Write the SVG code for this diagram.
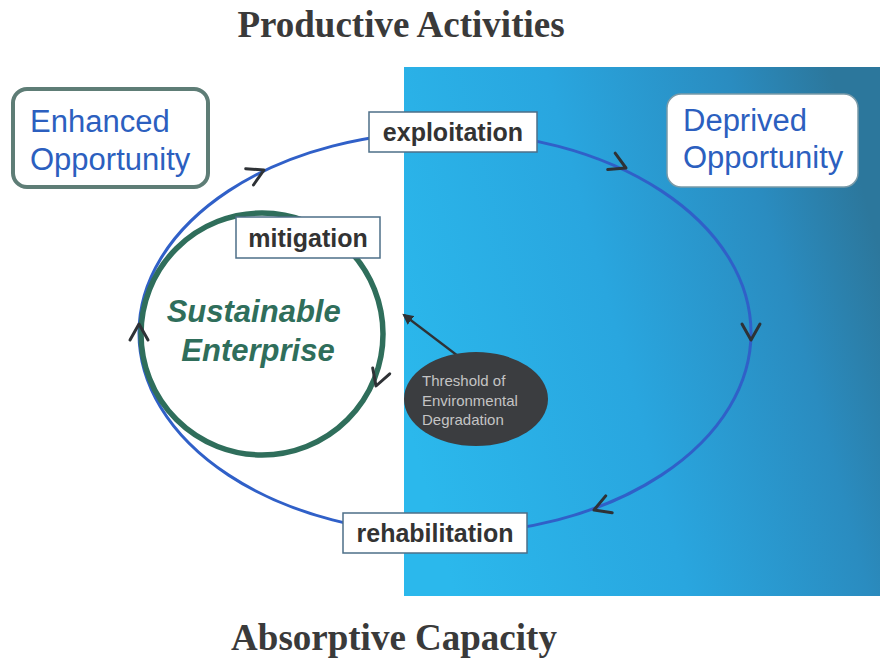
<svg xmlns="http://www.w3.org/2000/svg" width="880" height="660" viewBox="0 0 880 660">
  <defs>
    <linearGradient id="panelFill" x1="0" y1="0.65" x2="1" y2="0.35">
      <stop offset="0" stop-color="#2bb8ec"/>
      <stop offset="0.45" stop-color="#29a6df"/>
      <stop offset="0.8" stop-color="#2a8cc0"/>
      <stop offset="1" stop-color="#2c779c"/>
    </linearGradient>
    <path id="chev" d="M-16,-9 L0,0 L-16,9"/>
    <marker id="tip" viewBox="0 0 10 10" refX="8" refY="5" markerWidth="5" markerHeight="5" orient="auto">
      <path d="M0,0 L10,5 L0,10 z" fill="#2e3236"/>
    </marker>
    <style>
      .title { font-family: "Liberation Serif", serif; font-weight: bold; font-size: 37px; fill: #3a3a3a; text-anchor: middle; }
      .opp { font-family: "Liberation Sans", Arial, sans-serif; font-size: 31px; fill: #2c5fbf; }
      .tag { fill: #ffffff; stroke: #4d6f88; stroke-width: 1.5; }
      .tagText { font-family: "Liberation Sans", Arial, sans-serif; font-weight: bold; font-size: 25px; fill: #333333; text-anchor: middle; }
      .loop { fill: none; stroke: #3060c8; stroke-width: 3; }
      .chev { fill: none; stroke: #2e3236; stroke-width: 3; stroke-linecap: round; stroke-linejoin: round; }
      .small { font-family: "Liberation Sans", Arial, sans-serif; font-size: 15px; fill: #c4c4c4; }
    </style>
  </defs>

  <rect width="880" height="660" fill="#ffffff"/>

  <!-- shaded region on the right -->
  <rect id="panel" x="404" y="67" width="476" height="529" fill="url(#panelFill)"/>

  <!-- titles -->
  <text class="title" x="401" y="37">Productive Activities</text>
  <text class="title" x="394" y="650">Absorptive Capacity</text>

  <!-- connectors: the main cycle and the threshold pointer -->
  <g id="connectors">
    <ellipse class="loop" cx="445" cy="333" rx="306" ry="201"/>
    <line x1="458" y1="356" x2="404" y2="315" stroke="#2e3236" stroke-width="2.2" marker-end="url(#tip)"/>
  </g>

  <!-- sustainable enterprise circle -->
  <g id="sustainable-enterprise">
    <circle cx="262" cy="334" r="121" fill="#ffffff" stroke="#2f6e5b" stroke-width="5.5"/>
    <text font-family="'Liberation Sans', Arial, sans-serif" font-weight="bold" font-style="italic" font-size="31" fill="#2f6e5b" text-anchor="middle">
      <tspan x="258" y="322">Sustainable</tspan>
      <tspan x="258" y="361">Enterprise</tspan>
    </text>
  </g>

  <!-- direction marks along the cycles -->
  <g id="direction-marks">
    <use href="#chev" class="chev" transform="translate(264,170) rotate(-25.5)"/>
    <use href="#chev" class="chev" transform="translate(626,168) rotate(24.4)"/>
    <use href="#chev" class="chev" transform="translate(751,340) rotate(90)"/>
    <use href="#chev" class="chev" transform="translate(594,510) rotate(159)"/>
    <use href="#chev" class="chev" transform="translate(139,324) rotate(-90)"/>
    <use href="#chev" class="chev" transform="translate(376,386) rotate(109)"/>
  </g>

  <!-- enhanced opportunity -->
  <g id="enhanced-opportunity">
    <rect x="13" y="89" width="195" height="98" rx="14" fill="#ffffff" stroke="#5e7d76" stroke-width="4"/>
    <text class="opp"><tspan x="30" y="132">Enhanced</tspan><tspan x="30" y="170">Opportunity</tspan></text>
  </g>

  <!-- deprived opportunity -->
  <g id="deprived-opportunity">
    <rect x="667" y="94" width="191" height="93" rx="14" fill="#ffffff" stroke="#7a9aa8" stroke-width="1.5"/>
    <text class="opp"><tspan x="683" y="131">Deprived</tspan><tspan x="683" y="168">Opportunity</tspan></text>
  </g>

  <!-- stage labels on the cycle -->
  <g id="exploitation">
    <rect class="tag" x="369" y="112" width="168" height="40"/>
    <text class="tagText" x="453" y="141">exploitation</text>
  </g>
  <g id="mitigation">
    <rect class="tag" x="236" y="217" width="144" height="41" stroke="#2f6e5b"/>
    <text class="tagText" x="308" y="247">mitigation</text>
  </g>
  <g id="rehabilitation">
    <rect class="tag" x="343" y="513" width="184" height="40"/>
    <text class="tagText" x="435" y="542">rehabilitation</text>
  </g>

  <!-- threshold bubble -->
  <g id="threshold">
    <ellipse cx="476" cy="399" rx="72" ry="47" fill="#3b3d40"/>
    <text class="small"><tspan x="422" y="386">Threshold of</tspan><tspan x="422" y="406">Environmental</tspan><tspan x="422" y="425">Degradation</tspan></text>
  </g>
</svg>
